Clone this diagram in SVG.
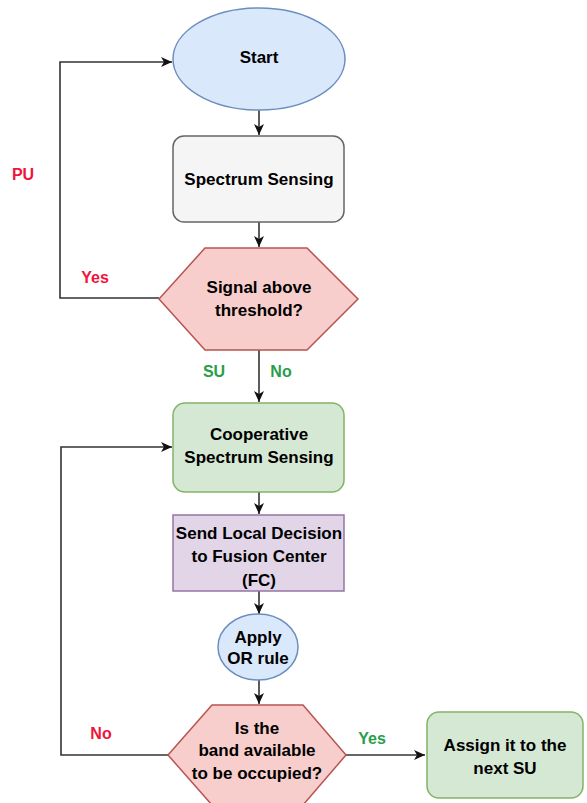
<svg xmlns="http://www.w3.org/2000/svg" width="587" height="803" viewBox="0 0 587 803">
<style>
.t{font-family:"Liberation Sans",Arial,sans-serif;font-weight:bold;font-size:17px;fill:#000;text-anchor:middle}
.l{font-family:"Liberation Sans",Arial,sans-serif;font-weight:bold;font-size:16px;text-anchor:middle}
.red{fill:#f0143c}
.green{fill:#2a9d4a}
.c{fill:none;stroke:#333;stroke-width:1.6}
</style>
<defs>
<marker id="a" markerUnits="userSpaceOnUse" markerWidth="12" markerHeight="10" refX="11" refY="5" orient="auto">
<path d="M0,0 L11,5 L0,10 L3,5 z" fill="#111"/>
</marker>
</defs>
<rect width="587" height="803" fill="#fff"/>
<g id="connectors">
<path class="c" d="M259,110 V135" marker-end="url(#a)"/>
<path class="c" d="M259,222 V247" marker-end="url(#a)"/>
<path class="c" d="M259,350 V402" marker-end="url(#a)"/>
<path class="c" d="M259,492 V514" marker-end="url(#a)"/>
<path class="c" d="M259,591 V614" marker-end="url(#a)"/>
<path class="c" d="M259,680 V704" marker-end="url(#a)"/>
<path class="c" d="M346,755 H425" marker-end="url(#a)"/>
<path class="c" d="M159,298 H60 V62 H172" marker-end="url(#a)"/>
<path class="c" d="M168,755 H61 V447 H172" marker-end="url(#a)"/>
<text class="l red" x="23" y="180">PU</text>
<text class="l red" x="95" y="283">Yes</text>
<text class="l green" x="214" y="377">SU</text>
<text class="l green" x="281" y="377">No</text>
<text class="l red" x="101" y="739">No</text>
<text class="l green" x="372" y="744">Yes</text>
</g>
<g id="start">
<ellipse cx="259" cy="59" rx="86" ry="51" fill="#dae8fc" stroke="#6c8ebf" stroke-width="1.5"/>
<text class="t" x="259" y="63">Start</text>
</g>
<g id="spectrum-sensing">
<rect x="173" y="136" width="171" height="86" rx="11" fill="#f5f5f5" stroke="#666" stroke-width="1.5"/>
<text class="t" x="259" y="185">Spectrum Sensing</text>
</g>
<g id="signal-threshold">
<polygon points="159,299 205,248 307,248 358,299 307,350 205,350" fill="#f8cecc" stroke="#b85450" stroke-width="1.5"/>
<text class="t" x="259" y="293">Signal above</text>
<text class="t" x="259" y="316">threshold?</text>
</g>
<g id="cooperative">
<rect x="173" y="403" width="171" height="89" rx="12" fill="#d5e8d4" stroke="#82b366" stroke-width="1.5"/>
<text class="t" x="259" y="440">Cooperative</text>
<text class="t" x="259" y="463">Spectrum Sensing</text>
</g>
<g id="send-decision">
<rect x="173" y="515" width="171" height="76" fill="#e1d5e7" stroke="#9673a6" stroke-width="1.5"/>
<text class="t" x="259" y="539">Send Local Decision</text>
<text class="t" x="259" y="562">to Fusion Center</text>
<text class="t" x="259" y="586">(FC)</text>
</g>
<g id="or-rule">
<ellipse cx="258" cy="647" rx="40" ry="33" fill="#dae8fc" stroke="#6c8ebf" stroke-width="1.5"/>
<text class="t" x="258" y="643">Apply</text>
<text class="t" x="258" y="664">OR rule</text>
</g>
<g id="band-available">
<polygon points="168,755 212,705 303,705 346,755 303,805 212,805" fill="#f8cecc" stroke="#b85450" stroke-width="1.5"/>
<text class="t" x="257" y="734">Is the</text>
<text class="t" x="257" y="756">band available</text>
<text class="t" x="257" y="779">to be occupied?</text>
</g>
<g id="assign">
<rect x="427" y="712" width="156" height="86" rx="12" fill="#d5e8d4" stroke="#82b366" stroke-width="1.5"/>
<text class="t" x="505" y="751">Assign it to the</text>
<text class="t" x="505" y="774">next SU</text>
</g>
</svg>
